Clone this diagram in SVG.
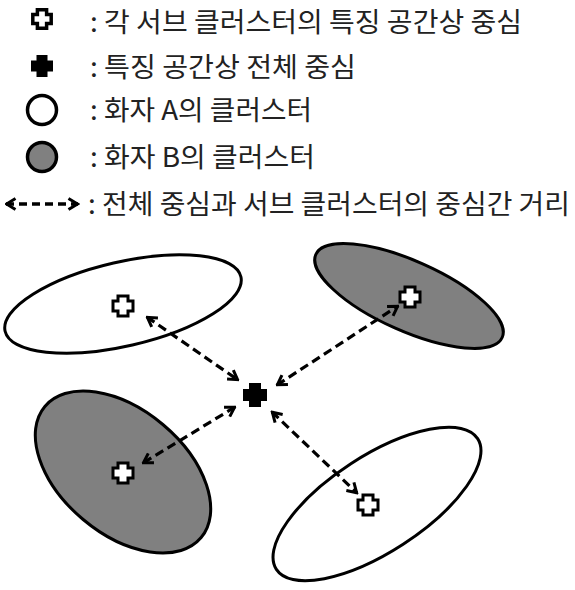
<svg xmlns="http://www.w3.org/2000/svg" width="575" height="590" viewBox="0 0 575 590">
<style>
.t{font-family:"Noto Sans CJK KR","Noto Sans",sans-serif;font-size:27px;fill:#222}
.ew{fill:#fff;stroke:#000;stroke-width:3}
.eg{fill:#808080;stroke:#000;stroke-width:3}
.po{fill:#fff;stroke:#000;stroke-width:3}
.pf{fill:#000}
.con{fill:none;stroke:#000;stroke-width:3.2;stroke-dasharray:9 5;marker-start:url(#ah);marker-end:url(#ah)}
</style>
<defs>
<path id="plus" d="M-5,-10H5V-5H10V5H5V10H-5V5H-10V-5H-5Z"/>
<marker id="ah" viewBox="0 0 14 14" refX="12.5" refY="7" markerWidth="14" markerHeight="14" markerUnits="userSpaceOnUse" orient="auto-start-reverse">
<path d="M3,1.5L12,7L3,12.5" fill="none" stroke="#000" stroke-width="3"/>
</marker>
</defs>
<g id="legend">
<use href="#plus" class="po" transform="translate(42,19) scale(0.92)" style="stroke-width:3.8"/>
<text class="t" x="90" y="32" textLength="432" lengthAdjust="spacingAndGlyphs">: 각 서브 클러스터의 특징 공간상 중심</text>
<use href="#plus" class="pf" transform="translate(42,66) scale(1.1)"/>
<text class="t" x="90" y="77" textLength="266" lengthAdjust="spacingAndGlyphs">: 특징 공간상 전체 중심</text>
<circle cx="42" cy="110" r="14.5" class="ew" style="stroke-width:3.5"/>
<text class="t" x="90" y="120" textLength="222" lengthAdjust="spacingAndGlyphs">: 화자 A의 클러스터</text>
<circle cx="42" cy="157" r="14.5" class="eg" style="stroke-width:3.5"/>
<text class="t" x="90" y="167" textLength="225" lengthAdjust="spacingAndGlyphs">: 화자 B의 클러스터</text>
<line x1="6" y1="204" x2="78" y2="204" class="con" style="stroke-dasharray:8 5;stroke-width:3.5"/>
<text class="t" x="88" y="214" textLength="482" lengthAdjust="spacingAndGlyphs">: 전체 중심과 서브 클러스터의 중심간 거리</text>
</g>
<g id="clusterA1">
<ellipse cx="123" cy="304" rx="121" ry="42" transform="rotate(-13 123 304)" class="ew"/>
<use href="#plus" class="po" transform="translate(123,306)"/>
</g>
<g id="clusterB1">
<ellipse cx="409" cy="296" rx="102" ry="35" transform="rotate(24 409 296)" class="eg"/>
<use href="#plus" class="po" transform="translate(410,297)"/>
</g>
<g id="clusterB2">
<ellipse cx="123" cy="472" rx="102" ry="62" transform="rotate(40 123 472)" class="eg"/>
<use href="#plus" class="po" transform="translate(123,473)"/>
</g>
<g id="clusterA2">
<ellipse cx="377" cy="504" rx="120" ry="48" transform="rotate(-33 377 504)" class="ew"/>
<use href="#plus" class="po" transform="translate(368,505)"/>
</g>
<g id="center">
<use href="#plus" class="pf" transform="translate(255,395) scale(1.2)"/>
</g>
<g id="connectors">
<line x1="147" y1="317" x2="238" y2="380" class="con"/>
<line x1="277" y1="385" x2="398" y2="306" class="con"/>
<line x1="235" y1="407" x2="143" y2="463" class="con"/>
<line x1="272" y1="412" x2="357" y2="493" class="con"/>
</g>
</svg>
